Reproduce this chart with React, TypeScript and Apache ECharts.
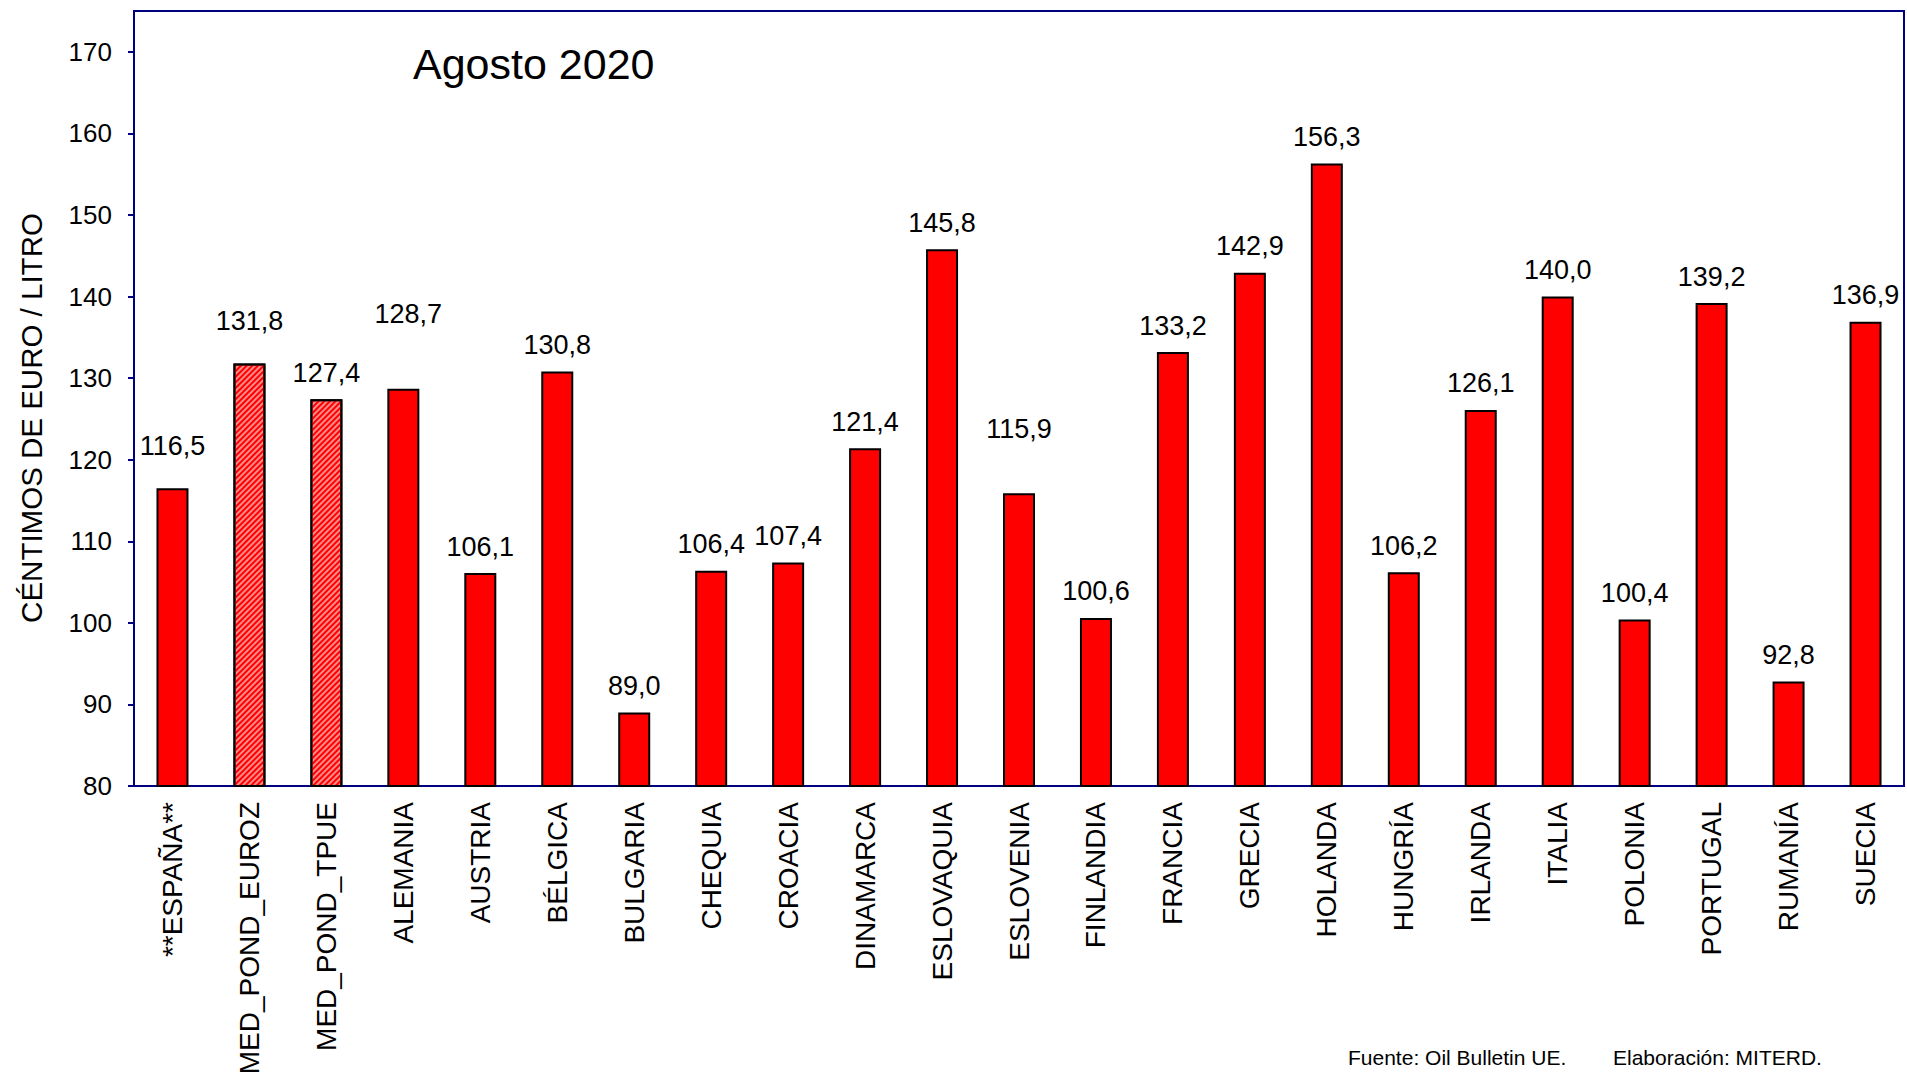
import React, { useEffect, useRef } from "react";
import * as echarts from "echarts";

const categories = [
  "**ESPAÑA**", "MED_POND_EUROZ", "MED_POND_TPUE", "ALEMANIA", "AUSTRIA", "BÉLGICA",
  "BULGARIA", "CHEQUIA", "CROACIA", "DINAMARCA", "ESLOVAQUIA", "ESLOVENIA",
  "FINLANDIA", "FRANCIA", "GRECIA", "HOLANDA", "HUNGRÍA", "IRLANDA", "ITALIA",
  "POLONIA", "PORTUGAL", "RUMANÍA", "SUECIA",
];
const values = [
  116.5, 131.8, 127.4, 128.7, 106.1, 130.8, 89.0, 106.4, 107.4, 121.4, 145.8, 115.9,
  100.6, 133.2, 142.9, 156.3, 106.2, 126.1, 140.0, 100.4, 139.2, 92.8, 136.9,
];
const hatchedCategories = ["MED_POND_EUROZ", "MED_POND_TPUE"];
// extra label lift (px) for labels placed higher in the original
const labelLift: Record<string, number> = {
  "**ESPAÑA**": 16,
  "MED_POND_EUROZ": 16,
  "ALEMANIA": 48,
  "ESLOVENIA": 38,
};
const yTicks = [80, 90, 100, 110, 120, 130, 140, 150, 160, 170];
const title = "Agosto 2020";
const yTitle = "CÉNTIMOS DE EURO / LITRO";
const source = "Fuente: Oil Bulletin UE.";
const credit = "Elaboración: MITERD.";

const FONT = "Arial, 'Liberation Sans', Helvetica, sans-serif";
const NAVY = "#000080";

export default function App() {
  const ref = useRef<HTMLDivElement>(null);
  useEffect(() => {
    if (!ref.current) return;
    const chart = echarts.init(ref.current, null, { renderer: "svg" });
    const baseDist = 13;
    const data = categories.map((c, i) => {
      const hatched = hatchedCategories.includes(c);
      const item: any = {
        value: values[i],
        label: {
          distance: baseDist + (labelLift[c] || 0),
          offset: c === "ALEMANIA" ? [5, 0] : [0, 0],
        },
      };
      if (hatched) {
        item.itemStyle = {
          color: "#FF8A8A",
          decal: {
            symbol: "rect",
            symbolSize: 1,
            color: "#FF0000",
            dashArrayX: [1, 0],
            dashArrayY: [2, 2],
            rotation: -Math.PI / 4,
          },
        };
      }
      return item;
    });
    chart.setOption({
      animation: false,
      backgroundColor: "#ffffff",
      textStyle: { fontFamily: FONT },
      grid: {
        left: 134,
        right: 3,
        top: 11,
        bottom: 288,
        containLabel: false,
        outerBoundsMode: "none",
        show: true,
        borderColor: NAVY,
        borderWidth: 2,
        backgroundColor: "transparent",
      },
      xAxis: {
        type: "category",
        data: categories,
        boundaryGap: true,
        axisLine: { show: true, lineStyle: { color: NAVY, width: 2 } },
        axisTick: { show: false },
        axisLabel: {
          rotate: 90,
          interval: 0,
          margin: 16,
          fontSize: 28,
          color: "#000",
          fontFamily: FONT,
        },
        splitLine: { show: false },
      },
      yAxis: {
        type: "value",
        min: 80,
        max: 175,
        interval: 10,
        axisLine: { show: true, lineStyle: { color: NAVY, width: 2 } },
        axisTick: {
          show: true,
          length: 6,
          lineStyle: { color: NAVY, width: 2 },
          customValues: yTicks,
        },
        axisLabel: {
          fontSize: 26,
          color: "#000",
          margin: 22,
          fontFamily: FONT,
          customValues: yTicks,
        },
        splitLine: { show: false },
      },
      series: [
        {
          type: "bar",
          data,
          barWidth: 32,
          itemStyle: { color: "#FF0000", borderColor: "#000", borderWidth: 2 },
          label: {
            show: true,
            position: "top",
            fontSize: 27,
            color: "#000",
            fontFamily: FONT,
            formatter: (p: any) => Number(p.value).toFixed(1).replace(".", ","),
          },
        },
      ],
      graphic: [
        {
          type: "text",
          left: 413,
          top: 42,
          style: { text: title, fill: "#000", font: `43px ${FONT}` },
        },
        {
          type: "text",
          x: 31,
          y: 418,
          rotation: Math.PI / 2,
          style: {
            text: yTitle,
            fill: "#000",
            font: `29.5px ${FONT}`,
            align: "center",
            verticalAlign: "middle",
          },
        },
        {
          type: "text",
          left: 1348,
          top: 1047,
          style: { text: source, fill: "#000", font: `21px ${FONT}` },
        },
        {
          type: "text",
          left: 1613,
          top: 1047,
          style: { text: credit, fill: "#000", font: `21px ${FONT}` },
        },
      ],
    });
    return () => chart.dispose();
  }, []);
  return (
    <div
      ref={ref}
      style={{ position: "fixed", left: 0, top: 0, width: 1907, height: 1074 }}
    />
  );
}
